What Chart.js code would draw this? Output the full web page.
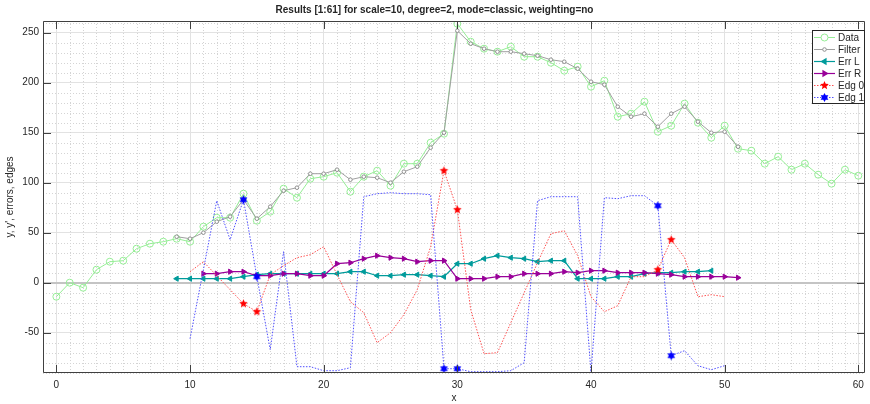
<!DOCTYPE html>
<html>
<head>
<meta charset="utf-8">
<script src="https://cdn.jsdelivr.net/npm/chart.js@4.4.1/dist/chart.umd.min.js"></script>
<style>
  html, body { margin: 0; padding: 0; background: #fff; }
  #wrap { width: 870px; height: 404px; }
</style>
</head>
<body>
<div id="wrap"><canvas id="grafico" width="870" height="404"></canvas></div>
<script>
// 1. Values
const titulo = 'Results [1:61] for scale=10, degree=2, mode=classic, weighting=no';
const xTicks = [0, 10, 20, 30, 40, 50, 60];
const yTicks = [-50, 0, 50, 100, 150, 200, 250];

const dataX0 = 0;
const dataY = [-14, 0, -5, 13, 21, 22, 34, 39, 41, 44, 41, 56, 65, 65, 89, 62, 71, 94, 85, 104,
  106, 110, 91, 106, 112, 97, 119, 119, 140, 149, 259, 241, 234, 231, 236, 226, 226, 220, 212, 216,
  196, 202, 166, 169, 181, 151, 157, 179, 160, 145, 157, 134, 132, 119, 126, 113, 119, 108, 99, 113, 107];

const filterX0 = 9;
const filterY = [46, 44, 50, 61, 66, 83, 64, 76, 92, 95, 109, 109, 113, 103, 106, 105, 100, 111, 116, 135,
  150, 252, 239, 234, 231, 231, 229, 227, 223, 221, 214, 201, 198, 176, 166, 169, 156, 169, 176, 161, 150, 151, 136];

const errLX0 = 9;
const errLY = [4, 4, 4, 4, 4, 6, 8, 9, 9, 9, 9, 9, 9, 11, 11, 7, 7, 8, 8, 7,
  6, 19, 19, 24, 27, 25, 24, 21, 22, 22, 4, 4, 4, 6, 6, 9, 10, 10, 11, 11, 12];

const errRX0 = 11;
const errRY = [9, 9, 11, 11, 7, 7, 9, 9, 7, 7, 19, 20, 24, 27, 25, 24, 21, 22, 22, 4,
  4, 4, 6, 6, 9, 9, 9, 11, 10, 12, 12, 10, 10, 10, 9, 8, 6, 6, 6, 6, 5];

const edgeX0 = 10;
const edg0Y = [11, 21, 7, -7, -21, -29, 8, 17, 25, 28, 36, 8, -19, -30, -60, -50, -32, -7, 36, 112,
  73, -27, -71, -70, -40, -10, 20, 49, 52, 27, -14, -29, -23, 6, 6, 13, 43, 25, -14, -12, -14];
const edg1Y = [-56, 13, 82, 43, 83, 6, -67, 31, -84, -84, -88, -88, -85, 86, 89, 90, 89, 89, 88, -86,
  -86, -89, -89, -89, -88, -80, 82, 86, 86, 86, -90, 85, 84, 87, 87, 77, -73, -68, -83, -87, -83];
const edgeMarks = [14, 15, 29, 30, 45, 46];

// 2. Helpers
const serie = (x0, ys) => ys.map((v, i) => ({ x: x0 + i, y: v }));

function makeStar(points, color, r, inner) {
    const c = document.createElement('canvas');
    const s = Math.ceil(r * 2 + 2);
    c.width = s; c.height = s;
    const g = c.getContext('2d');
    g.translate(s / 2, s / 2);
    g.beginPath();
    for (let i = 0; i < points * 2; i++) {
        const rr = i % 2 === 0 ? r : r * inner;
        const a = -Math.PI / 2 + i * Math.PI / points;
        g.lineTo(rr * Math.cos(a), rr * Math.sin(a));
    }
    g.closePath();
    g.fillStyle = color;
    g.fill();
    return c;
}

const starRed = makeStar(5, '#ff0000', 4.5, 0.45);
const starBlue = makeStar(6, '#0000ff', 4.5, 0.55);
const TXT = '#262626';

// 3. Minor grid, zero line, axis box, legend
const moldura = {
    id: 'moldura',
    beforeDatasetsDraw(chart) {
        const { ctx, chartArea: a, scales: { x, y } } = chart;
        ctx.save();
        ctx.strokeStyle = '#d4d4d4';
        ctx.lineWidth = 1;
        ctx.setLineDash([1, 2]);
        ctx.beginPath();
        for (let v = Math.ceil(x.min); v <= x.max; v++) {
            if (v % 10 === 0) continue;
            const px = Math.round(x.getPixelForValue(v)) + 0.5;
            ctx.moveTo(px, a.top); ctx.lineTo(px, a.bottom);
        }
        for (let v = Math.ceil(y.min / 10) * 10; v <= y.max; v += 10) {
            if (v % 50 === 0) continue;
            const py = Math.round(y.getPixelForValue(v)) + 0.5;
            ctx.moveTo(a.left, py); ctx.lineTo(a.right, py);
        }
        ctx.stroke();
        ctx.setLineDash([]);
        // zero line
        const y0 = Math.round(y.getPixelForValue(0));
        ctx.strokeStyle = '#c4c4c4';
        ctx.lineWidth = 2;
        ctx.beginPath();
        ctx.moveTo(a.left, y0); ctx.lineTo(a.right, y0);
        ctx.stroke();
        ctx.restore();
    },
    afterDatasetsDraw(chart) {
        const { ctx, chartArea: a, scales: { x, y } } = chart;
        ctx.save();
        ctx.strokeStyle = '#404040';
        ctx.lineWidth = 1;
        ctx.beginPath();
        ctx.rect(a.left + 0.5, a.top + 0.5, a.right - a.left - 1, a.bottom - a.top - 1);
        const tl = 8;
        xTicks.forEach(v => {
            const px = Math.round(x.getPixelForValue(v)) + 0.5;
            ctx.moveTo(px, a.bottom); ctx.lineTo(px, a.bottom - tl);
            ctx.moveTo(px, a.top); ctx.lineTo(px, a.top + tl);
        });
        yTicks.forEach(v => {
            const py = Math.round(y.getPixelForValue(v)) + 0.5;
            ctx.moveTo(a.left, py); ctx.lineTo(a.left + tl, py);
            ctx.moveTo(a.right, py); ctx.lineTo(a.right - tl, py);
        });
        ctx.stroke();

        // legend box
        const bw = 53, bh = 74;
        const bx = a.right - bw, by = a.top + 9;
        ctx.fillStyle = '#ffffff';
        ctx.fillRect(bx, by, bw, bh);
        ctx.strokeStyle = '#262626';
        ctx.strokeRect(bx + 0.5, by + 0.5, bw - 1, bh - 1);
        ctx.font = '10px "Liberation Sans", Arial, sans-serif';
        ctx.textBaseline = 'middle';
        chart.data.datasets.forEach((ds, i) => {
            const ly = by + 7.5 + i * 12;
            ctx.save();
            ctx.strokeStyle = ds.borderColor;
            ctx.lineWidth = ds.borderWidth;
            ctx.setLineDash(ds.borderDash || []);
            ctx.beginPath();
            ctx.moveTo(bx + 2, ly); ctx.lineTo(bx + 23, ly);
            ctx.stroke();
            ctx.setLineDash([]);
            const mx = bx + 12.5;
            const st = ds.legendStyle;
            if (st.img) {
                ctx.drawImage(st.img, mx - st.img.width / 2, ly - st.img.height / 2);
            } else {
                ctx.fillStyle = st.fill;
                ctx.strokeStyle = st.stroke;
                Chart.helpers.drawPoint(ctx, {
                    pointStyle: st.style, radius: st.r, rotation: st.rot || 0, borderWidth: 1
                }, mx, ly);
            }
            ctx.restore();
            ctx.fillStyle = TXT;
            ctx.fillText(ds.label, bx + 26, ly + 0.5);
        });
        ctx.restore();
    }
};

// 4. Chart
Chart.defaults.font.family = '"Liberation Sans", Arial, sans-serif';
Chart.defaults.font.size = 10;
Chart.defaults.color = TXT;

const green = 'rgb(150,238,150)';
const teal = '#009b9b';
const purple = '#990099';
const redLine = 'rgb(255,80,80)';
const blueLine = 'rgb(80,80,255)';

new Chart(document.getElementById('grafico'), {
    type: 'scatter',
    data: {
        datasets: [
            {
                label: 'Data', data: serie(dataX0, dataY), showLine: true, order: 6,
                borderColor: green, borderWidth: 1,
                pointStyle: 'circle', pointRadius: 3.5, pointBorderColor: green, pointBorderWidth: 1,
                pointBackgroundColor: 'rgba(0,0,0,0)',
                legendStyle: { style: 'circle', r: 3.5, fill: '#fff', stroke: green }
            },
            {
                label: 'Filter', data: serie(filterX0, filterY), showLine: true, order: 5,
                borderColor: '#a0a0a0', borderWidth: 1,
                pointStyle: 'circle', pointRadius: 1.8, pointBorderColor: '#909090', pointBorderWidth: 1,
                pointBackgroundColor: '#ffffff',
                legendStyle: { style: 'circle', r: 1.8, fill: '#fff', stroke: '#909090' }
            },
            {
                label: 'Err L', data: serie(errLX0, errLY), showLine: true, order: 4,
                borderColor: teal, borderWidth: 1.2,
                pointStyle: 'triangle', pointRotation: -90, pointRadius: 3,
                pointBorderColor: teal, pointBackgroundColor: teal, pointBorderWidth: 1,
                legendStyle: { style: 'triangle', rot: -90, r: 3, fill: teal, stroke: teal }
            },
            {
                label: 'Err R', data: serie(errRX0, errRY), showLine: true, order: 3,
                borderColor: purple, borderWidth: 1.2,
                pointStyle: 'triangle', pointRotation: 90, pointRadius: 3,
                pointBorderColor: purple, pointBackgroundColor: purple, pointBorderWidth: 1,
                legendStyle: { style: 'triangle', rot: 90, r: 3, fill: purple, stroke: purple }
            },
            {
                label: 'Edg 0', data: serie(edgeX0, edg0Y), showLine: true, order: 2,
                borderColor: redLine, borderWidth: 1, borderDash: [1.5, 1.5],
                pointStyle: starRed,
                pointRadius: c => (c.raw && edgeMarks.includes(c.raw.x)) ? 4 : 0,
                legendStyle: { img: starRed }
            },
            {
                label: 'Edg 1', data: serie(edgeX0, edg1Y), showLine: true, order: 1,
                borderColor: blueLine, borderWidth: 1, borderDash: [1.5, 1.5],
                pointStyle: starBlue,
                pointRadius: c => (c.raw && edgeMarks.includes(c.raw.x)) ? 4 : 0,
                legendStyle: { img: starBlue }
            }
        ]
    },
    options: {
        responsive: false,
        animation: false,
        devicePixelRatio: 1,
        layout: { padding: { left: 0, right: 1, top: 0, bottom: 0 } },
        plugins: {
            legend: { display: false },
            tooltip: { enabled: false },
            title: {
                display: true, text: titulo, color: TXT,
                font: { size: 10, weight: 'bold' },
                padding: { top: 4, bottom: 5 }
            }
        },
        scales: {
            x: {
                type: 'linear', min: -1, max: 60.5,
                afterBuildTicks: s => { s.ticks = xTicks.map(v => ({ value: v })); },
                afterFit: s => { s.height = 31; },
                grid: { color: '#e2e2e2', drawTicks: false },
                border: { display: false },
                ticks: { padding: 6, maxRotation: 0, autoSkip: false, color: TXT },
                title: { display: true, text: 'x', color: TXT, padding: { top: 0, bottom: 0 } }
            },
            y: {
                type: 'linear', min: -90.3, max: 261.7,
                afterBuildTicks: s => { s.ticks = yTicks.map(v => ({ value: v })); },
                afterFit: s => { s.width = 43; },
                grid: { color: '#e2e2e2', drawTicks: false },
                border: { display: false },
                ticks: { padding: 4, color: TXT },
                title: { display: true, text: "y, y', errors, edges", color: TXT, padding: { top: 4, bottom: 0 } }
            }
        }
    },
    plugins: [moldura]
});
</script>
</body>
</html>
